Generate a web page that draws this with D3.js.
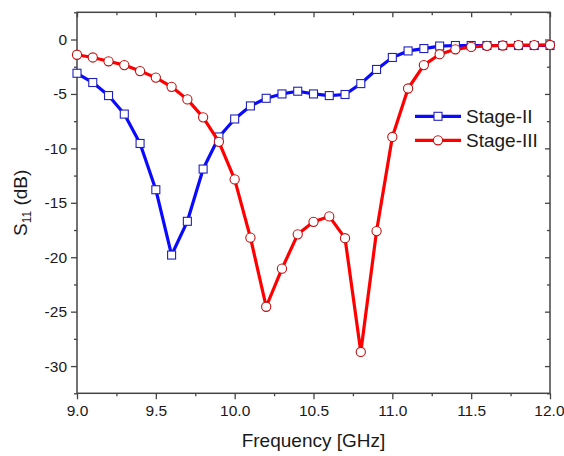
<!DOCTYPE html>
<html><head><meta charset="utf-8">
<script src="https://cdn.jsdelivr.net/npm/d3@7"></script>
<style>body{margin:0;background:#fff}svg{display:block}</style>
</head><body>
<svg id="c" width="564" height="456"></svg>
<script>
const freq = [9.0,9.1,9.2,9.3,9.4,9.5,9.6,9.7,9.8,9.9,10.0,10.1,10.2,10.3,10.4,10.5,10.6,10.7,10.8,10.9,11.0,11.1,11.2,11.3,11.4,11.5,11.6,11.7,11.8,11.9,12.0];
const stage2 = [-3.1,-3.95,-5.15,-6.85,-9.55,-13.8,-19.8,-16.7,-11.9,-8.95,-7.3,-6.1,-5.4,-5.0,-4.75,-5.0,-5.15,-5.05,-4.05,-2.75,-1.65,-1.05,-0.83,-0.6,-0.55,-0.55,-0.55,-0.55,-0.55,-0.55,-0.55];
const stage3 = [-1.4,-1.65,-2.0,-2.35,-2.9,-3.5,-4.35,-5.5,-7.15,-9.4,-12.85,-18.2,-24.55,-21.05,-17.9,-16.75,-16.25,-18.25,-28.7,-17.6,-8.95,-4.5,-2.35,-1.35,-0.9,-0.68,-0.58,-0.55,-0.52,-0.52,-0.5];
const xMajor = [9.0,9.5,10.0,10.5,11.0,11.5,12.0];
const xMinor = [9.25,9.75,10.25,10.75,11.25,11.75];
const yMajor = [0,-5,-10,-15,-20,-25,-30];
const yMinor = [2.5,-2.5,-7.5,-12.5,-17.5,-22.5,-27.5,-32.5];
const seriesNames = ["Stage-II","Stage-III"];

const svg = d3.select("#c");
const L=77, R=550, T=12.3, B=393.3;
const x = d3.scaleLinear().domain([9,12]).range([L,R]);
const y = d3.scaleLinear().domain([-32.5,2.5]).range([B,T]);
const axisCol = "#444", font = "'Liberation Sans', Arial, sans-serif", txt="#1a1a1a";

// bottom axis
svg.append("g").attr("class","xb").attr("transform",`translate(0,${B})`)
  .call(d3.axisBottom(x).tickValues(xMajor).tickFormat(d3.format(".1f")).tickSize(6).tickSizeOuter(0).tickPadding(6));
svg.append("g").attr("transform",`translate(0,${B})`)
  .call(d3.axisBottom(x).tickValues(xMinor).tickFormat("").tickSize(3).tickSizeOuter(0));
// top axis (inward)
svg.append("g").attr("transform",`translate(0,${T})`)
  .call(d3.axisBottom(x).tickValues(xMajor).tickFormat("").tickSize(5).tickSizeOuter(0));
svg.append("g").attr("transform",`translate(0,${T})`)
  .call(d3.axisBottom(x).tickValues(xMinor).tickFormat("").tickSize(3).tickSizeOuter(0));
// left axis
svg.append("g").attr("transform",`translate(${L},0)`)
  .call(d3.axisLeft(y).tickValues(yMajor).tickFormat(d3.format("d")).tickSize(6).tickSizeOuter(0).tickPadding(4));
svg.append("g").attr("transform",`translate(${L},0)`)
  .call(d3.axisLeft(y).tickValues(yMinor).tickFormat("").tickSize(3).tickSizeOuter(0));
// right axis (inward)
svg.append("g").attr("transform",`translate(${R},0)`)
  .call(d3.axisLeft(y).tickValues(yMajor).tickFormat("").tickSize(5).tickSizeOuter(0));
svg.append("g").attr("transform",`translate(${R},0)`)
  .call(d3.axisLeft(y).tickValues(yMinor).tickFormat("").tickSize(3).tickSizeOuter(0));

svg.selectAll(".domain").remove();
svg.selectAll(".tick line").attr("stroke",axisCol).attr("stroke-width",1.3);
svg.selectAll(".tick text").attr("font-family",font).attr("font-size",15.5).attr("fill",txt)
  .text(function(){return this.textContent.replace("−","-");});
// keep last x label inside the window
svg.selectAll(".xb .tick text").filter(d=>d===12).attr("text-anchor","end").attr("x",14);

// frame
svg.append("rect").attr("x",L).attr("y",T).attr("width",R-L).attr("height",B-T)
  .attr("fill","none").attr("stroke",axisCol).attr("stroke-width",1.5);

// titles
svg.append("text").attr("x",(L+R)/2).attr("y",447).attr("text-anchor","middle")
  .attr("font-family",font).attr("font-size",19).attr("fill",txt).text("Frequency [GHz]");
const yt = svg.append("text").attr("transform",`translate(27,${(T+B)/2}) rotate(-90)`).attr("text-anchor","middle")
  .attr("font-family",font).attr("font-size",19).attr("fill",txt);
yt.append("tspan").text("S");
yt.append("tspan").attr("font-size",12).attr("dy",4).text("11");
yt.append("tspan").attr("dy",-4).text(" (dB)");

// data
const d2 = freq.map((f,i)=>[f,stage2[i]]);
const d3s = freq.map((f,i)=>[f,stage3[i]]);
const line = d3.line().x(d=>x(d[0])).y(d=>y(d[1]));
const blue="#0a0aff", red="#ff0000";
svg.append("path").datum(d2).attr("d",line).attr("fill","none").attr("stroke",blue).attr("stroke-width",3.2).attr("stroke-linejoin","round");
svg.selectAll(".sq").data(d2).enter().append("rect")
  .attr("x",d=>x(d[0])-4).attr("y",d=>y(d[1])-4).attr("width",8).attr("height",8)
  .attr("fill","#fff").attr("stroke","#2020c0").attr("stroke-width",1.1);
svg.append("path").datum(d3s).attr("d",line).attr("fill","none").attr("stroke",red).attr("stroke-width",3.2).attr("stroke-linejoin","round");
svg.selectAll(".ci").data(d3s).enter().append("circle")
  .attr("cx",d=>x(d[0])).attr("cy",d=>y(d[1])).attr("r",4.6)
  .attr("fill","#fff").attr("stroke","#c01010").attr("stroke-width",1.1);

// legend
const lg = [{n:seriesNames[0],c:blue,m:"sq",yy:116.3},{n:seriesNames[1],c:red,m:"ci",yy:140.3}];
lg.forEach(o=>{
  svg.append("line").attr("x1",415).attr("x2",461).attr("y1",o.yy).attr("y2",o.yy).attr("stroke",o.c).attr("stroke-width",3.2);
  if(o.m==="sq") svg.append("rect").attr("x",434).attr("y",o.yy-4).attr("width",8).attr("height",8).attr("fill","#fff").attr("stroke","#2020c0").attr("stroke-width",1.1);
  else svg.append("circle").attr("cx",438).attr("cy",o.yy).attr("r",4.6).attr("fill","#fff").attr("stroke","#c01010").attr("stroke-width",1.1);
  svg.append("text").attr("x",466).attr("y",o.yy+7).attr("font-family",font).attr("font-size",19).attr("fill",txt).text(o.n);
});
</script>
</body></html>
